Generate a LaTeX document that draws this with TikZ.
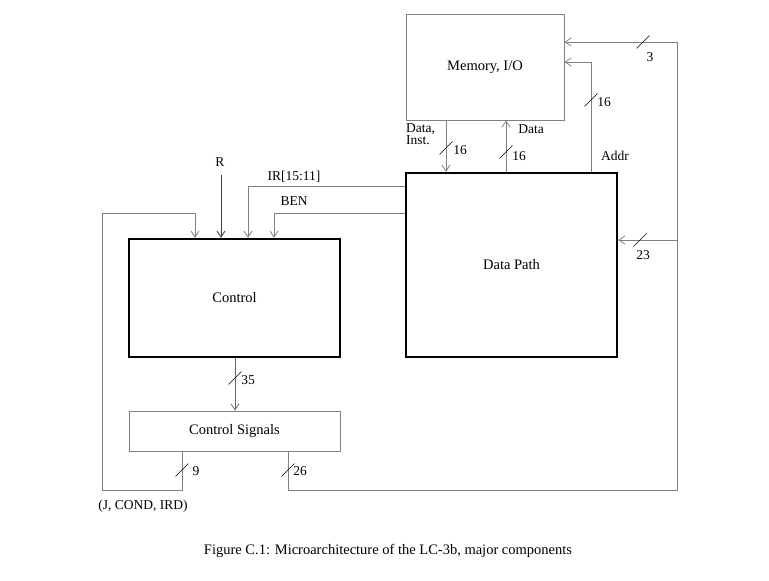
\documentclass[tikz,border=0pt]{standalone}
\usepackage{fontspec}
\setmainfont{Liberation Serif}
\usetikzlibrary{arrows.meta}
\begin{document}
\begin{tikzpicture}[x=1pt,y=-1pt,
  box/.style={draw=gray, line width=0.8pt, inner sep=0pt, font=\fontsize{14.5}{16}\selectfont},
  bigbox/.style={draw=black, line width=2.4pt, inner sep=0pt, font=\fontsize{14.5}{16}\selectfont},
  conn/.style={draw=gray, line width=0.8pt},
  arr/.style={conn, -{Straight Barb[length=6pt,width=8pt]}},
  lab/.style={font=\fontsize{13.5}{12.5}\selectfont, inner sep=0pt},
  slash/.style={draw=black, line width=0.5pt}]
\useasboundingbox (0,0) rectangle (769,581);
% boxes
\node[box, minimum width=158pt, minimum height=106pt] (mem) at (485,67) {Memory, I/O};
\node[bigbox, minimum width=211pt, minimum height=184pt] (dp) at (511.5,265) {Data Path};
\node[bigbox, minimum width=211pt, minimum height=118pt] (ctl) at (234.5,298) {Control};
\node[box, minimum width=211pt, minimum height=40pt] (cs) at (234.5,431) {Control Signals};
% named coordinates
\coordinate (xdi) at (446,0);
\coordinate (xd) at (506,0);
\coordinate (xaddr) at (591,62);
\coordinate (x3) at (677,42);
\coordinate (x23) at (677,240);
\coordinate (xbot) at (677,490);
\coordinate (x26) at (288,490);
\coordinate (x9) at (182,490);
\coordinate (lbot) at (102,490);
\coordinate (ltop) at (102,213);
\coordinate (ldn) at (195,213);
\coordinate (rtop) at (221,175);
\coordinate (ir) at (248,186);
\coordinate (ben) at (274,213);
\coordinate (c35) at (235,0);
% connectors
\draw[arr] (mem.south -| xdi) -- (dp.north -| xdi);
\draw[arr] (dp.north -| xd) -- (mem.south -| xd);
\draw[arr] (dp.north -| xaddr) -- (xaddr) -- (mem.east |- xaddr);
\draw[arr] (x23) -- (dp.east |- x23);
\draw[arr] (cs.south -| x26) -- (x26) -- (xbot) -- (x3) -- (mem.east |- x3);
\draw[arr] (cs.south -| x9) -- (x9) -- (lbot) -- (ltop) -- (ldn) -- (ctl.north -| ldn);
\draw[arr, draw=black!75] (rtop) -- (ctl.north -| rtop);
\draw[arr] (dp.west |- ir) -- (ir) -- (ctl.north -| ir);
\draw[arr] (dp.west |- ben) -- (ben) -- (ctl.north -| ben);
\draw[arr, draw=black!60] (ctl.south -| c35) -- (cs.north -| c35);
% slash marks
\draw[slash] (446,148) ++(-6.5,6.5) -- ++(13,-13);
\draw[slash] (506,152) ++(-6.5,6.5) -- ++(13,-13);
\draw[slash] (591,100) ++(-6.5,6.5) -- ++(13,-13);
\draw[slash] (643,42) ++(-6.5,6.5) -- ++(13,-13);
\draw[slash] (640,240) ++(-6.5,6.5) -- ++(13,-13);
\draw[slash] (235,378) ++(-6.5,6.5) -- ++(13,-13);
\draw[slash] (182,470) ++(-6.5,6.5) -- ++(13,-13);
\draw[slash] (288,470) ++(-6.5,6.5) -- ++(13,-13);
% labels
\node[lab, anchor=north west, align=left] (ldi) at (406,123) {Data,\\Inst.};
\node[lab] (l16a) at (460,150) {16};
\node[lab] (ldata) at (531,129) {Data};
\node[lab] (l16b) at (519,156) {16};
\node[lab] (l16c) at (604,102) {16};
\node[lab] (laddr) at (615,156) {Addr};
\node[lab] (l3) at (650,57) {3};
\node[lab] (l23) at (643,255) {23};
\node[lab] (lr) at (220,162) {R};
\node[lab] (lir) at (294,177) {IR[15:11]};
\node[lab] (lben) at (294,201) {BEN};
\node[lab] (l35) at (248,380) {35};
\node[lab] (l9) at (196,471) {9};
\node[lab] (l26) at (300,471) {26};
\node[lab] (ljc) at (143,506) {(J, COND, IRD)};
\node[lab, font=\fontsize{14.5}{16}\selectfont] (cap) at (388,551) {Figure C.1: Microarchitecture of the LC-3b, major components};
\end{tikzpicture}
\end{document}
